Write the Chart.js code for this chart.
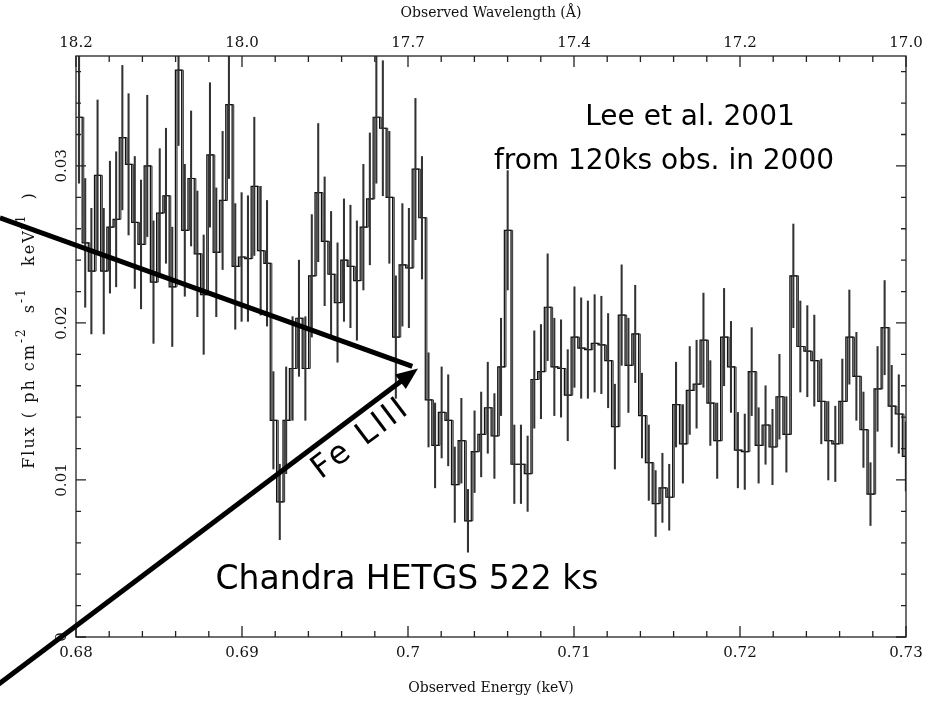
<!DOCTYPE html>
<html>
<head>
<meta charset="utf-8">
<script src="https://cdn.jsdelivr.net/npm/chart.js@4.4.1/dist/chart.umd.min.js"></script>
<style>
  body { margin: 0; background: #fff; }
  canvas { display: block; }
</style>
</head>
<body>
<canvas id="spectrum" width="935" height="702"></canvas>
<script>
// spectrum binned on a uniform wavelength grid (Angstrom)
const hc = 12.3984;
const firstBinLambda = 18.233;
const binWidthLambda = 0.00995;

const flux = [
  0.0331, 0.0251, 0.0233, 0.0294, 0.0233, 0.0261, 0.0266, 0.0318, 0.0301, 0.0264,
  0.0250, 0.0300, 0.0226, 0.0270, 0.0281, 0.0223, 0.0361, 0.0259, 0.0292, 0.0244,
  0.0218, 0.0307, 0.0245, 0.0278, 0.0339, 0.0236, 0.0242, 0.0241, 0.0287, 0.0246,
  0.0238, 0.0138, 0.0086, 0.0138, 0.0171, 0.0203, 0.0171, 0.0230, 0.0283, 0.0252,
  0.0231, 0.0213, 0.0240, 0.0236, 0.0227, 0.0261, 0.0279, 0.0331, 0.0324, 0.0280,
  0.0191, 0.0237, 0.0235, 0.0298, 0.0267, 0.0151, 0.0122, 0.0143, 0.0138, 0.0097,
  0.0125, 0.0074, 0.0118, 0.0129, 0.0146, 0.0128, 0.0172, 0.0259, 0.0110, 0.0110,
  0.0104, 0.0164, 0.0169, 0.0210, 0.0172, 0.0171, 0.0154, 0.0191, 0.0184, 0.0183,
  0.0187, 0.0186, 0.0176, 0.0134, 0.0205, 0.0173, 0.0193, 0.0141, 0.0111, 0.0085,
  0.0095, 0.0089, 0.0148, 0.0123, 0.0157, 0.0161, 0.0189, 0.0149, 0.0125, 0.0191,
  0.0172, 0.0119, 0.0118, 0.0169, 0.0122, 0.0135, 0.0121, 0.0153, 0.0129, 0.0230,
  0.0185, 0.0182, 0.0176, 0.0150, 0.0125, 0.0123, 0.0150, 0.0191, 0.0166, 0.0132,
  0.0091, 0.0158, 0.0197, 0.0147, 0.0142, 0.0115
];

const fluxErr = [
  0.0042, 0.0041, 0.0040, 0.0048, 0.0040, 0.0042, 0.0043, 0.0046, 0.0045, 0.0042,
  0.0041, 0.0045, 0.0039, 0.0041, 0.0043, 0.0038, 0.0048, 0.0042, 0.0043, 0.0040,
  0.0038, 0.0046, 0.0041, 0.0044, 0.0047, 0.0040, 0.0041, 0.0040, 0.0044, 0.0041,
  0.0040, 0.0031, 0.0024, 0.0034, 0.0033, 0.0037, 0.0033, 0.0039, 0.0044, 0.0041,
  0.0040, 0.0038, 0.0039, 0.0039, 0.0038, 0.0040, 0.0042, 0.0042, 0.0043, 0.0042,
  0.0039, 0.0039, 0.0038, 0.0045, 0.0039, 0.0030, 0.0027, 0.0029, 0.0029, 0.0024,
  0.0027, 0.0020, 0.0026, 0.0027, 0.0029, 0.0027, 0.0031, 0.0038, 0.0025, 0.0025,
  0.0024, 0.0031, 0.0030, 0.0034, 0.0031, 0.0031, 0.0029, 0.0032, 0.0032, 0.0031,
  0.0031, 0.0031, 0.0030, 0.0027, 0.0032, 0.0030, 0.0031, 0.0027, 0.0024, 0.0021,
  0.0022, 0.0021, 0.0027, 0.0025, 0.0028, 0.0028, 0.0030, 0.0027, 0.0024, 0.0031,
  0.0029, 0.0024, 0.0024, 0.0028, 0.0024, 0.0025, 0.0024, 0.0027, 0.0024, 0.0033,
  0.0029, 0.0029, 0.0029, 0.0027, 0.0025, 0.0024, 0.0027, 0.0030, 0.0028, 0.0024,
  0.0020, 0.0027, 0.0030, 0.0026, 0.0025, 0.0022
];

const energyTicks = [0.68, 0.69, 0.7, 0.71, 0.72, 0.73];
const energyLabels = ["0.68", "0.69", "0.7", "0.71", "0.72", "0.73"];
const wavelengthLabels = ["18.2", "18.0", "17.7", "17.4", "17.2", "17.0"];
const fluxTicks = [0, 0.01, 0.02, 0.03];
const fluxLabels = ["0", "0.01", "0.02", "0.03"];

// annotation anchors in data units (keV, flux)
const arrowTip = { x: 0.7006, y: 0.0171 };
const upperArrowStart = { x: 0.67542, y: 0.0267 };
const lowerArrowStart = { x: 0.67422, y: -0.0039 };
const notes = [
  { text: "Lee et al. 2001", x: 0.71699, y: 0.03305, size: 28 },
  { text: "from 120ks obs. in 2000", x: 0.71542, y: 0.03025, size: 28 },
  { text: "Chandra HETGS 522 ks", x: 0.69994, y: 0.00363, size: 33 }
];
const lineLabel = { text: "Fe LIII", x: 0.69718, y: 0.01262, size: 32 };

function edgeEnergy(k) {
  return hc / (firstBinLambda - k * binWidthLambda);
}

let stepPoints = [];
let shadowPoints = [];
let errorBars = [];
for (let i = 0; i < flux.length; i++) {
  stepPoints.push({ x: edgeEnergy(i), y: flux[i] });
  shadowPoints.push({ x: edgeEnergy(i) + 0.0001, y: flux[i] });
  let centre = (edgeEnergy(i) + edgeEnergy(i + 1)) / 2;
  errorBars.push({ x: centre, y: [flux[i] - fluxErr[i], flux[i] + fluxErr[i]] });
}
stepPoints.push({ x: edgeEnergy(flux.length), y: flux[flux.length - 1] });
shadowPoints.push({ x: edgeEnergy(flux.length) + 0.0001, y: flux[flux.length - 1] });

const serif = "DejaVu Serif";
const handFont = "'Comic Sans MS', 'DejaVu Sans', sans-serif";

function drawYTitle(ctx, cx, cy) {
  const parts = [
    ["Flux ( ph cm", false],
    ["-2", true],
    ["  s", false],
    ["-1", true],
    ["   keV", false],
    ["-1", true],
    ["  )", false]
  ];
  ctx.save();
  ctx.letterSpacing = "2px";
  let total = 0;
  for (const p of parts) {
    ctx.font = (p[1] ? "12px " : "16px ") + serif;
    total += ctx.measureText(p[0]).width;
  }
  ctx.translate(cx, cy);
  ctx.rotate(-Math.PI / 2);
  ctx.textAlign = "left";
  ctx.textBaseline = "middle";
  let pos = -total / 2;
  for (const p of parts) {
    ctx.font = (p[1] ? "12px " : "16px ") + serif;
    ctx.fillText(p[0], pos, p[1] ? -8 : 0);
    pos += ctx.measureText(p[0]).width;
  }
  ctx.restore();
}

const axesAndNotes = {
  id: "axesAndNotes",
  afterDraw(chart) {
    const ctx = chart.ctx;
    const xs = chart.scales.x;
    const ys = chart.scales.y;
    const { left, right, top, bottom } = chart.chartArea;
    const px = (p) => ({ x: xs.getPixelForValue(p.x), y: ys.getPixelForValue(p.y) });

    ctx.save();
    ctx.strokeStyle = "#222";
    ctx.fillStyle = "#111";
    ctx.lineWidth = 1.3;
    ctx.strokeRect(left, top, right - left, bottom - top);

    // inward ticks, minor every 0.002
    ctx.beginPath();
    for (let k = 0; k <= 25; k++) {
      const x = xs.getPixelForValue(0.68 + k * 0.002);
      const len = k % 5 === 0 ? 11 : 6;
      ctx.moveTo(x, bottom);
      ctx.lineTo(x, bottom - len);
      ctx.moveTo(x, top);
      ctx.lineTo(x, top + len);
    }
    for (let k = 0; k <= 18; k++) {
      const y = ys.getPixelForValue(k * 0.002);
      const len = k % 5 === 0 ? 10 : 5;
      ctx.moveTo(left, y);
      ctx.lineTo(left + len, y);
      ctx.moveTo(right, y);
      ctx.lineTo(right - len, y);
    }
    ctx.stroke();

    ctx.font = "15px " + serif;
    ctx.textAlign = "center";
    ctx.textBaseline = "middle";
    for (let i = 0; i < energyTicks.length; i++) {
      const x = xs.getPixelForValue(energyTicks[i]);
      ctx.fillText(energyLabels[i], x, bottom + 16);
      ctx.fillText(wavelengthLabels[i], x, top - 13);
    }
    for (let i = 0; i < fluxTicks.length; i++) {
      const y = ys.getPixelForValue(fluxTicks[i]);
      ctx.save();
      ctx.translate(left - 14, y);
      ctx.rotate(-Math.PI / 2);
      ctx.fillText(fluxLabels[i], 0, 0);
      ctx.restore();
    }

    ctx.font = "14px " + serif;
    ctx.fillText("Observed Energy (keV)", (left + right) / 2, bottom + 51);
    ctx.fillText("Observed Wavelength (\u00c5)", (left + right) / 2, 13);
    drawYTitle(ctx, 30, 330);

    // arrows pointing at the edge
    const tip = px(arrowTip);
    const up = px(upperArrowStart);
    const lo = px(lowerArrowStart);
    ctx.strokeStyle = "#000";
    ctx.fillStyle = "#000";
    ctx.lineWidth = 5;
    const angUp = Math.atan2(tip.y - up.y, tip.x - up.x);
    ctx.beginPath();
    ctx.moveTo(up.x, up.y);
    ctx.lineTo(tip.x - 6 * Math.cos(angUp), tip.y - 6 * Math.sin(angUp));
    ctx.stroke();
    const ang = Math.atan2(tip.y - lo.y, tip.x - lo.x);
    const headLen = 22;
    const headHalf = 9;
    const bx = tip.x - headLen * Math.cos(ang);
    const by = tip.y - headLen * Math.sin(ang);
    ctx.beginPath();
    ctx.moveTo(lo.x, lo.y);
    ctx.lineTo(bx + 2 * Math.cos(ang), by + 2 * Math.sin(ang));
    ctx.stroke();
    ctx.beginPath();
    ctx.moveTo(tip.x, tip.y);
    ctx.lineTo(bx + headHalf * Math.sin(ang), by - headHalf * Math.cos(ang));
    ctx.lineTo(bx - headHalf * Math.sin(ang), by + headHalf * Math.cos(ang));
    ctx.closePath();
    ctx.fill();

    for (const n of notes) {
      const p = px(n);
      ctx.font = n.size + "px " + handFont;
      ctx.fillText(n.text, p.x, p.y);
    }
    const lp = px(lineLabel);
    ctx.save();
    ctx.translate(lp.x, lp.y);
    ctx.rotate(ang);
    ctx.font = lineLabel.size + "px " + handFont;
    ctx.letterSpacing = "3px";
    ctx.fillText(lineLabel.text, 0, 0);
    ctx.restore();

    ctx.restore();
  }
};

new Chart(document.getElementById("spectrum"), {
  type: "line",
  data: {
    datasets: [
      {
        data: stepPoints,
        stepped: true,
        borderColor: "#111",
        borderWidth: 1.2,
        pointRadius: 0,
        fill: false,
        order: 2
      },
      {
        data: shadowPoints,
        stepped: true,
        borderColor: "#333",
        borderWidth: 1,
        pointRadius: 0,
        backgroundColor: "#b4b4b4",
        fill: "-1",
        order: 3
      },
      {
        type: "bar",
        data: errorBars,
        backgroundColor: "#333",
        barThickness: 1.4,
        order: 1
      }
    ]
  },
  options: {
    responsive: false,
    animation: false,
    events: [],
    layout: { padding: { left: 76, right: 29, top: 56, bottom: 65 } },
    plugins: { legend: { display: false }, tooltip: { enabled: false } },
    scales: {
      x: { type: "linear", min: 0.68, max: 0.73, display: false, offset: false },
      y: { type: "linear", min: 0, max: 0.037, display: false }
    }
  },
  plugins: [axesAndNotes]
});
</script>
</body>
</html>
